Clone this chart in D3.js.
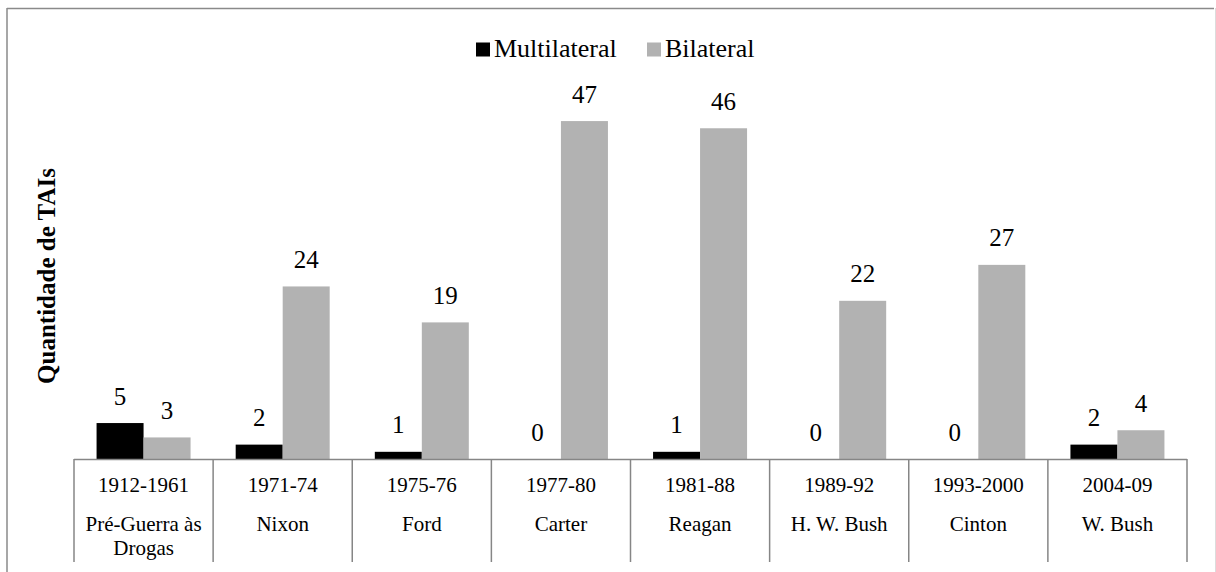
<!DOCTYPE html>
<html>
<head>
<meta charset="utf-8">
<script src="https://cdn.jsdelivr.net/npm/d3@7"></script>
<style>
  body { margin: 0; background: #fff; }
</style>
</head>
<body>
<svg id="chart"></svg>
<script>
let periods = ['1912-1961', '1971-74', '1975-76', '1977-80', '1981-88', '1989-92', '1993-2000', '2004-09']
let presidents = ['Pré-Guerra às Drogas', 'Nixon', 'Ford', 'Carter', 'Reagan', 'H. W. Bush', 'Cinton', 'W. Bush']
let seriesNames = ['Multilateral', 'Bilateral']
let multilateral = [5, 2, 1, 0, 1, 0, 0, 2]
let bilateral = [3, 24, 19, 47, 46, 22, 27, 4]
let colors = ['#000000', '#b2b2b2']

let font = '"Times New Roman", "Liberation Serif", "DejaVu Serif", serif'
let width = 1216
let height = 572
let baseY = 459
let left = 74
let right = 1187

let svg = d3.select('#chart')
  .attr('width', width)
  .attr('height', height)
  .style('font-family', font)

// outer frame
svg.append('line').attr('x1', 7).attr('x2', 1214).attr('y1', 8.5).attr('y2', 8.5)
  .attr('stroke', '#8a8a8a').attr('stroke-width', 1.5)
svg.append('line').attr('x1', 7).attr('x2', 7).attr('y1', 8).attr('y2', height)
  .attr('stroke', '#8a8a8a').attr('stroke-width', 1.5)
svg.append('line').attr('x1', 1215.5).attr('x2', 1215.5).attr('y1', 8).attr('y2', height)
  .attr('stroke', '#dcdcdc').attr('stroke-width', 1)

let xSlot = d3.scaleBand()
  .domain(periods)
  .range([left, right])
  .padding(0)

let xSeries = d3.scaleBand()
  .domain(seriesNames)
  .range([0, xSlot.bandwidth()])
  .paddingInner(0)
  .paddingOuter(0.48)

let yScale = d3.scaleLinear()
  .domain([0, 50])
  .range([baseY, baseY - 50 * 7.19])

let rows = periods.map((p, i) => {
  return { period: p, values: [multilateral[i], bilateral[i]] }
})

let groups = svg.selectAll('g.group')
  .data(rows)
  .enter()
  .append('g')
  .attr('class', 'group')
  .attr('transform', (d) => 'translate(' + xSlot(d.period) + ',0)')

groups.selectAll('rect')
  .data((d) => d.values.map((v, k) => ({ name: seriesNames[k], value: v, k: k })))
  .enter()
  .append('rect')
  .attr('x', (d) => xSeries(d.name))
  .attr('width', xSeries.bandwidth())
  .attr('y', (d) => yScale(d.value))
  .attr('height', (d) => baseY - yScale(d.value))
  .attr('fill', (d) => colors[d.k])

groups.selectAll('text.value')
  .data((d) => d.values.map((v, k) => ({ name: seriesNames[k], value: v })))
  .enter()
  .append('text')
  .attr('class', 'value')
  .attr('x', (d) => xSeries(d.name) + xSeries.bandwidth() / 2)
  .attr('y', (d) => yScale(d.value) - 18.5)
  .attr('text-anchor', 'middle')
  .style('font-family', font)
  .style('font-size', '25px')
  .text((d) => d.value)

// category axis: baseline plus dividers
svg.append('line')
  .attr('x1', left).attr('x2', right)
  .attr('y1', baseY + 0.5).attr('y2', baseY + 0.5)
  .attr('stroke', '#868686').attr('stroke-width', 1.5)

let bounds = periods.map((p) => xSlot(p)).concat([right])
svg.selectAll('line.divider')
  .data(bounds)
  .enter()
  .append('line')
  .attr('class', 'divider')
  .attr('x1', (d) => d).attr('x2', (d) => d)
  .attr('y1', baseY).attr('y2', 562)
  .attr('stroke', '#868686').attr('stroke-width', 1.5)

svg.selectAll('text.period')
  .data(periods)
  .enter()
  .append('text')
  .attr('class', 'period')
  .attr('x', (d) => xSlot(d) + xSlot.bandwidth() / 2)
  .attr('y', 492)
  .attr('text-anchor', 'middle')
  .style('font-family', font)
  .style('font-size', '21px')
  .text((d) => d)

let presText = svg.selectAll('text.pres')
  .data(presidents)
  .enter()
  .append('text')
  .attr('class', 'pres')
  .attr('text-anchor', 'middle')
  .style('font-family', font)
  .style('font-size', '21px')

// wrap long names inside their slot
presText.each(function (d, i) {
  let t = d3.select(this)
  let cx = xSlot(periods[i]) + xSlot.bandwidth() / 2
  let words = d.split(' ')
  let line = []
  let lineNo = 0
  let tspan = t.append('tspan').attr('x', cx).attr('y', 531)
  words.forEach((w) => {
    line.push(w)
    tspan.text(line.join(' '))
    if (tspan.node().getComputedTextLength() > xSlot.bandwidth() - 10 && line.length > 1) {
      line.pop()
      tspan.text(line.join(' '))
      line = [w]
      lineNo++
      tspan = t.append('tspan').attr('x', cx).attr('y', 531 + lineNo * 24).text(w)
    }
  })
})

// y axis title
svg.append('text')
  .attr('transform', 'translate(55, 276) rotate(-90)')
  .attr('text-anchor', 'middle')
  .style('font-family', font)
  .style('font-size', '25px')
  .style('font-weight', 'bold')
  .text('Quantidade de TAIs')

// legend
let legendX = [476, 647]
seriesNames.forEach((name, k) => {
  svg.append('rect')
    .attr('x', legendX[k]).attr('y', 42.5)
    .attr('width', 14).attr('height', 14)
    .attr('fill', colors[k])
  svg.append('text')
    .attr('x', legendX[k] + 18)
    .attr('y', 57)
    .style('font-family', font)
    .style('font-size', '26px')
    .text(name)
})
</script>
</body>
</html>
